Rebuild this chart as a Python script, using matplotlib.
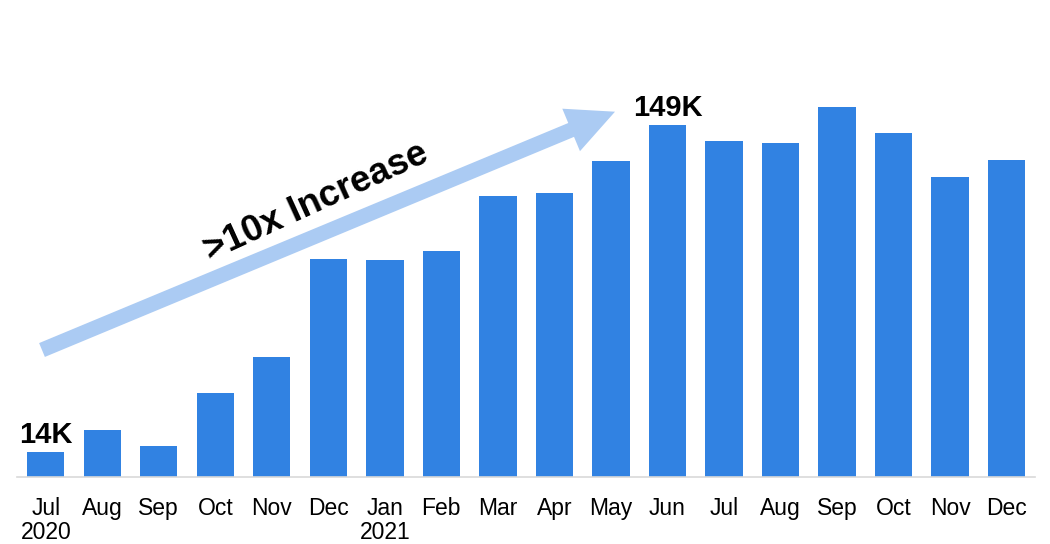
import matplotlib
matplotlib.use("Agg")
import matplotlib.pyplot as plt
import matplotlib.patches as mpatches

plt.rcParams["font.family"] = ["Liberation Sans", "DejaVu Sans"]

# Monthly active users (thousands), Jul 2020 - Dec 2021
months = ["Jul\n2020", "Aug", "Sep", "Oct", "Nov", "Dec",
          "Jan\n2021", "Feb", "Mar", "Apr", "May", "Jun",
          "Jul", "Aug", "Sep", "Oct", "Nov", "Dec"]
users_k = [14, 22.8, 16.2, 38.1, 53.0, 93.5,
           93.3, 97.0, 119.7, 120.8, 134.1, 149,
           142.3, 141.4, 156.2, 145.6, 127.3, 134.4]
label_idx = [0, 11]
label_txt = ["14K", "149K"]

BAR = "#3182E2"
ARROW = "#ABCBF3"
AXIS = "#D9D9D9"

W, H = 1050, 544
fig = plt.figure(figsize=(W / 100, H / 100), dpi=100)
ax = fig.add_axes([17.5 / W, 67.5 / H, 1017.3 / W, 476.5 / H])

x = list(range(len(months)))
ax.bar(x, users_k, width=0.66, color=BAR, zorder=2)

ax.set_xlim(-0.5, len(months) - 0.5)
ax.set_ylim(3.76, 200.46)

ax.set_xticks(x)
ax.set_xticklabels(months, fontsize=16.5, linespacing=1.1)
ax.tick_params(axis="x", length=0, pad=14.5, colors="black")
ax.set_yticks([])
for side in ("top", "left", "right"):
    ax.spines[side].set_visible(False)
ax.spines["bottom"].set_color(AXIS)
ax.spines["bottom"].set_linewidth(1.2)

for i, t in zip(label_idx, label_txt):
    ax.annotate(t, (i, users_k[i]), xytext=(0, 6), textcoords="offset points",
                ha="center", va="baseline", fontsize=21, fontweight="bold",
                color="black")

# growth arrow, drawn in inches so its shape stays undistorted
arrow = mpatches.FancyArrow(0.42, 1.94, 5.73, 2.383, width=0.15,
                            head_width=0.46, head_length=0.475,
                            length_includes_head=True, color=ARROW,
                            lw=0, transform=fig.dpi_scale_trans, zorder=1)
fig.patches.append(arrow)

fig.text(316 / W, 342 / H, ">10x Increase", rotation=24.5,
         rotation_mode="anchor", ha="center", va="center",
         fontsize=26.5, fontweight="bold", color="black")

fig.savefig("out.png", dpi=100)
